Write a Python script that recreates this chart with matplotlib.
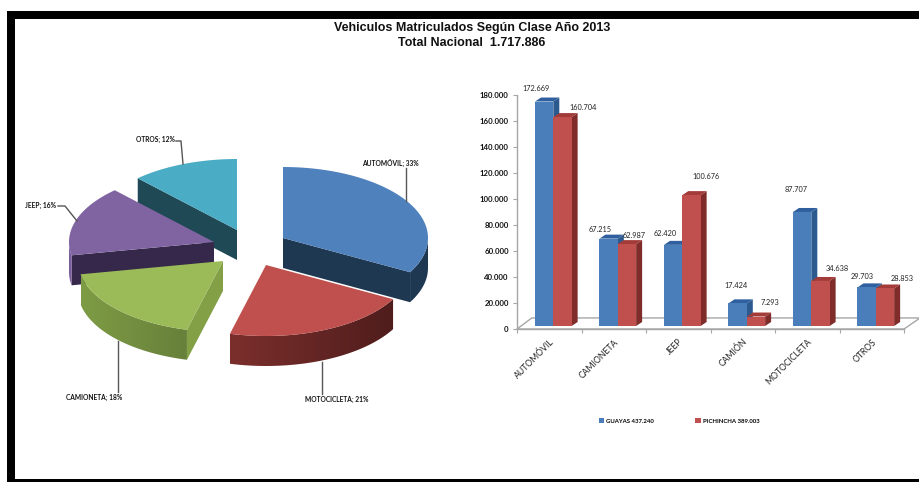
import numpy as np
import matplotlib
matplotlib.use("Agg")
import matplotlib.pyplot as plt
from matplotlib.colors import LinearSegmentedColormap
from matplotlib.patches import Polygon, Rectangle

plt.rcParams["font.family"] = ["Lato", "DejaVu Sans"]

# Pie: share of registered vehicles by class (%)
pie_labels = ["AUTOMÓVIL", "MOTOCICLETA", "CAMIONETA", "JEEP", "OTROS"]
pie_shares = [33, 21, 18, 16, 12]

# Bars: registered vehicles by province
categories = ["AUTOMÓVIL", "CAMIONETA", "JEEP", "CAMIÓN", "MOTOCICLETA", "OTROS"]
guayas = [172669, 67215, 62420, 17424, 87707, 29703]
pichincha = [160704, 62987, 100676, 7293, 34638, 28853]
y_ticks = [0, 20000, 40000, 60000, 80000, 100000, 120000, 140000, 160000, 180000]
legend_labels = ["GUAYAS 437.240", "PICHINCHA 389.003"]

W, H = 920, 482
fig = plt.figure(figsize=(W / 100, H / 100), dpi=100, facecolor="white")


def dotted(v):
    return f"{v:,}".replace(",", ".")


# page frame and headings, in pixel coordinates
page = fig.add_axes([0, 0, 1, 1])
page.set_xlim(0, W)
page.set_ylim(H, 0)
page.axis("off")
page.add_patch(Rectangle((7, 11), W - 7, 8, color="black", lw=0))
page.add_patch(Rectangle((7, 11), 8, H - 11, color="black", lw=0))
page.add_patch(Rectangle((7, 479), W - 7, 3, color="black", lw=0))
title_font = dict(family="Liberation Sans", weight="bold", fontsize=9.0, ha="center", va="center", color="#111111")
page.text(472, 27.5, "Vehiculos Matriculados Según Clase Año 2013", **title_font)
page.text(472, 43.5, "Total Nacional  1.717.886", **title_font)

# 3D pie ------------------------------------------------------------------
RX, RY, DEPTH = 145, 71, 30
edges = np.concatenate([[0], np.cumsum(pie_shares)]) * 3.6
apexes = [(283, 238), (266, 265), (223, 261), (214, 242), (237, 230)]
tops = ["#4f81bd", "#c0504d", "#9bbb59", "#8064a2", "#4bacc6"]
# cut face that turns towards the viewer: colour and which radius it hangs from
cut_faces = [("#1f3852", 1), None, ("#83a047", 0), ("#35284a", 0), ("#1f4a55", 0)]
# outer wall shade at the start and at the end of each slice's arc
arc_walls = [("#1f3852", "#1f3852"), ("#4f1d1c", "#7b2f2c"), ("#67803a", "#7e9c45"),
             ("#7a5d9b", "#7a5d9b"), None]
leaders = [[(406, 168), (406, 201)],
           [(322, 362), (322, 394)],
           [(118, 341), (118, 392)],
           [(58, 206), (65, 206), (77, 221)],
           [(176, 141), (181, 141), (183, 164)]]
label_pos = [(390, 163), (337, 399), (94, 397), (41, 205), (156, 139)]


def rim(apex, deg):
    a = np.radians(deg)
    return apex[0] + RX * np.sin(a), apex[1] - RY * np.cos(a)


def shaded_wall(apex, a0, a1, start_col, end_col, z):
    # gradient image clipped to the curved wall of a slice
    angles = np.linspace(a0, a1, 60)
    upper = [rim(apex, d) for d in angles]
    lower = [(px, py + DEPTH) for px, py in upper[::-1]]
    outline = Polygon(upper + lower, transform=page.transData, facecolor="none", lw=0)
    page.add_patch(outline)
    xs = [p[0] for p in upper]
    # the arc runs right to left, so the gradient is flipped along x
    cmap = LinearSegmentedColormap.from_list("wall", [end_col, start_col])
    img = page.imshow(np.linspace(0, 1, 128)[None, :], cmap=cmap, aspect="auto", zorder=z,
                      extent=(min(xs), max(xs), max(p[1] for p in lower), min(p[1] for p in upper)))
    img.set_clip_path(outline)


for z, i in enumerate([4, 0, 3, 2, 1]):
    apex = apexes[i]
    a0, a1 = edges[i], edges[i + 1]
    base_z = 1 + z * 3

    if cut_faces[i]:
        colour, which = cut_faces[i]
        tip = rim(apex, (a0, a1)[which])
        page.add_patch(Polygon([apex, tip, (tip[0], tip[1] + DEPTH), (apex[0], apex[1] + DEPTH)],
                               color=colour, lw=0, zorder=base_z))
    if arc_walls[i]:
        shaded_wall(apex, max(a0, 90), min(a1, 270), arc_walls[i][0], arc_walls[i][1], base_z + 1)

    arc = [rim(apex, d) for d in np.linspace(a0, a1, 80)]
    page.add_patch(Polygon([apex] + arc, color=tops[i], lw=0, zorder=base_z + 2))

page.set_xlim(0, W)
page.set_ylim(H, 0)

for pts, name, share, pos in zip(leaders, pie_labels, pie_shares, label_pos):
    xs, ys = zip(*pts)
    page.plot(xs, ys, color="#555555", lw=1.0, zorder=20)
    page.text(pos[0], pos[1], f"{name}; {share}%", fontsize=4.8, weight="bold", ha="center", va="center",
              color="#111111", zorder=20)

# 3D bars -----------------------------------------------------------------
ax = fig.add_axes([517 / W, (H - 329) / H, 387 / W, 234 / H])
ax.patch.set_alpha(0)
ax.set_xlim(-0.5, 5.5)
ax.set_ylim(0, 180000)
x = np.arange(len(categories))

BASE = 2308          # bars stand a little behind the front edge of the floor
BAR_W = 0.284
SHIFT = 0.063
DX, DY = 0.093, 3077
GRID = "#a6a6a6"

ax.add_patch(Polygon([(-0.5, 0), (-0.5 + 0.23, 8500), (5.5 + 0.25, 8500), (5.5, 0)],
                     closed=True, facecolor="white", edgecolor=GRID, lw=1.0, clip_on=False))


def draw_series(xs, values, front, top, side, label):
    for x0, v in zip(xs, values):
        l, r, y1 = x0 - BAR_W / 2, x0 + BAR_W / 2, v + BASE
        ax.add_patch(Polygon([(r, BASE), (r + DX, BASE + DY), (r + DX, y1 + DY), (r, y1)],
                             color=side, lw=0, clip_on=False, zorder=3))
        ax.add_patch(Polygon([(l, y1), (l + DX, y1 + DY), (r + DX, y1 + DY), (r, y1)],
                             color=top, lw=0, clip_on=False, zorder=3))
    return ax.bar(xs, values, BAR_W, bottom=BASE, color=front, label=label, zorder=3, clip_on=False)


# each series goes on top of the side wall of the one before it
blue_x = x + SHIFT - BAR_W / 2
red_x = x + SHIFT + BAR_W / 2
blue = draw_series(blue_x, guayas, "#4a7ebb", "#2f5f9e", "#2c5a8f", legend_labels[0])
red = draw_series(red_x, pichincha, "#c0504d", "#a33b38", "#7f2c2a", legend_labels[1])

# label offsets in pixels from the top of each bar's front face
blue_offsets = [(-8, 10), (-9, 6), (-8, 8), (-2, 14), (-6, 19), (-4, 7)]
red_offsets = [(21, 6), (7, 5), (15, 15), (14, 11), (17, 9), (17, 6)]
for xs, values, offsets in ((blue_x, guayas, blue_offsets), (red_x, pichincha, red_offsets)):
    for x0, v, off in zip(xs, values, offsets):
        ax.annotate(dotted(v), (x0, v + BASE), xytext=off, textcoords="offset pixels", fontsize=5.3,
                    ha="center", va="bottom", color="#222222", annotation_clip=False, zorder=5)

for side in ("top", "right"):
    ax.spines[side].set_visible(False)
for side in ("left", "bottom"):
    ax.spines[side].set_color(GRID)
    ax.spines[side].set_linewidth(1.0)
ax.set_yticks(y_ticks, [dotted(v) for v in y_ticks], fontsize=5.6, weight="bold", color="#111111")
ax.tick_params(axis="y", length=3, width=0.8, color=GRID, pad=3)
ax.set_xticks(x, categories, fontsize=6.2, rotation=45, ha="right", rotation_mode="anchor", color="#222222")
ax.set_xticks(np.arange(len(categories) + 1) - 0.5, minor=True)
ax.tick_params(axis="x", which="major", length=0, pad=6)
ax.tick_params(axis="x", which="minor", length=3, width=0.8, color=GRID)

fig.legend(handles=[blue, red], labels=legend_labels, loc="center", bbox_to_anchor=(679 / W, (H - 421) / H),
           ncol=2, frameon=False, handlelength=0.9, handleheight=0.9, handletextpad=0.35,
           columnspacing=6.9, prop={"weight": "bold", "size": 4.3})

fig.savefig("out.png", dpi=100)
